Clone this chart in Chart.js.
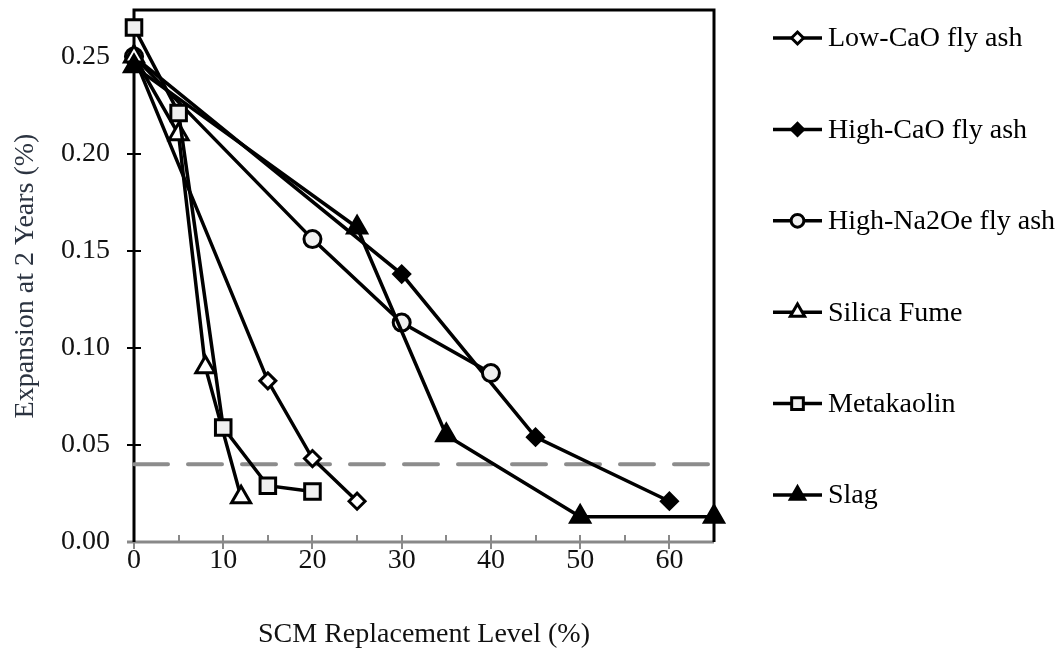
<!DOCTYPE html>
<html>
<head>
<meta charset="utf-8">
<script src="https://cdn.jsdelivr.net/npm/chart.js@4/dist/chart.umd.min.js"></script>
<style>
  html, body { margin: 0; padding: 0; background: #ffffff; }
</style>
</head>
<body>
<canvas id="scmChart" width="1059" height="651"></canvas>
<script>
// ---- data ----
const seriesNames = ["Low-CaO fly ash", "High-CaO fly ash", "High-Na2Oe fly ash", "Silica Fume", "Metakaolin", "Slag"];

const lowCaoLevel = [0, 15, 20, 25];
const lowCaoExp = [0.25, 0.083, 0.043, 0.021];

const highCaoLevel = [0, 30, 45, 60];
const highCaoExp = [0.25, 0.138, 0.054, 0.021];

const highNaLevel = [0, 20, 30, 40];
const highNaExp = [0.25, 0.156, 0.113, 0.087];

const silicaLevel = [0, 5, 8, 12];
const silicaExp = [0.25, 0.21, 0.09, 0.023];

const metakaolinLevel = [0, 5, 10, 15, 20];
const metakaolinExp = [0.265, 0.221, 0.059, 0.029, 0.026];

const slagLevel = [0, 25, 35, 50, 65];
const slagExp = [0.245, 0.162, 0.055, 0.013, 0.013];

const limitLevel = [0, 65];
const limitExp = [0.04, 0.04];

const xTicks = [0, 10, 20, 30, 40, 50, 60];
const yTicks = [0, 0.05, 0.10, 0.15, 0.20, 0.25];

// ---- styles ----
const serif = "'Liberation Serif', 'Times New Roman', serif";
const markers = [
    { style: "rectRot", radius: 8, fill: "#ffffff" },
    { style: "rectRot", radius: 8, fill: "#000000" },
    { style: "circle", radius: 8.5, fill: "#f0f0f0" },
    { style: "triangle", radius: 11, fill: "#ffffff" },
    { style: "rect", radius: 11, fill: "#f0f0f0" },
    { style: "triangle", radius: 11, fill: "#000000" },
];

function toPoints(xs, ys) {
    return xs.map((x, i) => ({ x: x, y: ys[i] }));
}

const seriesData = [
    toPoints(lowCaoLevel, lowCaoExp),
    toPoints(highCaoLevel, highCaoExp),
    toPoints(highNaLevel, highNaExp),
    toPoints(silicaLevel, silicaExp),
    toPoints(metakaolinLevel, metakaolinExp),
    toPoints(slagLevel, slagExp),
];

const datasets = seriesNames.map((name, i) => ({
    label: name,
    data: seriesData[i],
    showLine: true,
    borderColor: "#000000",
    borderWidth: 3.5,
    pointStyle: markers[i].style,
    pointRadius: markers[i].radius,
    pointHoverRadius: markers[i].radius,
    pointBackgroundColor: markers[i].fill,
    pointBorderColor: "#000000",
    pointBorderWidth: 3,
    clip: false,
    order: seriesNames.length - i,
}));

datasets.push({
    label: "limit",
    data: toPoints(limitLevel, limitExp),
    showLine: true,
    borderColor: "#8c8c8c",
    borderWidth: 4,
    borderDash: [34, 20],
    borderCapStyle: "round",
    pointRadius: 0,
    clip: false,
    order: 20,
});

// axis lines, ticks and the box round the plot
const framePlugin = {
    id: "frame",
    beforeDatasetsDraw(chart) {
        const { ctx, chartArea: a, scales } = chart;
        const x = scales.x, y = scales.y;
        ctx.save();

        ctx.strokeStyle = "#898989";
        ctx.lineWidth = 2;
        xTicks.forEach((v) => {
            const px = Math.round(x.getPixelForValue(v));
            ctx.beginPath();
            ctx.moveTo(px, a.bottom - 7);
            ctx.lineTo(px, a.bottom + 7);
            ctx.stroke();
            const mv = v + 5;
            if (mv < 65) {
                const mx = Math.round(x.getPixelForValue(mv));
                ctx.beginPath();
                ctx.moveTo(mx, a.bottom - 7);
                ctx.lineTo(mx, a.bottom);
                ctx.stroke();
            }
        });
        ctx.lineWidth = 3;
        ctx.beginPath();
        ctx.moveTo(a.left - 7, a.bottom);
        ctx.lineTo(a.right, a.bottom);
        ctx.stroke();

        ctx.strokeStyle = "#000000";
        ctx.lineWidth = 2;
        yTicks.forEach((v) => {
            if (v === 0) return;
            const py = Math.round(y.getPixelForValue(v));
            ctx.beginPath();
            ctx.moveTo(a.left - 7, py);
            ctx.lineTo(a.left + 7, py);
            ctx.stroke();
        });

        ctx.lineWidth = 3;
        ctx.beginPath();
        ctx.moveTo(a.left, a.bottom);
        ctx.lineTo(a.left, a.top);
        ctx.lineTo(a.right, a.top);
        ctx.lineTo(a.right, a.bottom);
        ctx.stroke();
        ctx.restore();
    },
};

// legend on the right: line with marker, then the name
const legendPlugin = {
    id: "sideLegend",
    afterDraw(chart) {
        const { ctx, chartArea: a } = chart;
        const x0 = a.right + 59;
        const lineLen = 49;
        ctx.save();
        seriesNames.forEach((name, i) => {
            const cy = a.top + 28 + i * 91.4;
            ctx.strokeStyle = "#000000";
            ctx.lineWidth = 3.5;
            ctx.beginPath();
            ctx.moveTo(x0, cy);
            ctx.lineTo(x0 + lineLen, cy);
            ctx.stroke();
            ctx.fillStyle = markers[i].fill;
            ctx.lineWidth = 3;
            Chart.helpers.drawPoint(ctx, {
                pointStyle: markers[i].style,
                radius: markers[i].radius * 0.75,
                rotation: 0,
                borderWidth: 3,
            }, x0 + lineLen / 2, cy);
            ctx.fillStyle = "#000000";
            ctx.font = "28px " + serif;
            ctx.textAlign = "left";
            ctx.textBaseline = "middle";
            ctx.fillText(name, x0 + lineLen + 6, cy + 1);
        });
        ctx.restore();
    },
};

new Chart(document.getElementById("scmChart"), {
    type: "scatter",
    data: { datasets: datasets },
    plugins: [framePlugin, legendPlugin],
    options: {
        responsive: false,
        animation: false,
        devicePixelRatio: 1,
        layout: { autoPadding: false, padding: { left: 0, top: 10, right: 345, bottom: 0 } },
        plugins: { legend: { display: false }, tooltip: { enabled: false } },
        scales: {
            x: {
                type: "linear",
                min: 0,
                max: 65,
                border: { display: false },
                grid: { display: false, drawTicks: false },
                afterFit(scale) {
                    scale.height = 109;
                    scale.paddingLeft = 0;
                    scale.paddingRight = 0;
                },
                afterBuildTicks(scale) { scale.ticks = xTicks.map((v) => ({ value: v })); },
                ticks: {
                    padding: 2,
                    color: "#111111",
                    font: { family: serif, size: 28 },
                    callback: (v) => String(v),
                },
                title: {
                    display: true,
                    text: "SCM Replacement Level (%)",
                    color: "#111111",
                    font: { family: serif, size: 28 },
                    padding: { top: 0, bottom: 0 },
                },
            },
            y: {
                type: "linear",
                min: 0,
                max: 0.274,
                border: { display: false },
                grid: { display: false, drawTicks: false },
                afterFit(scale) {
                    scale.width = 134;
                    scale.paddingTop = 0;
                    scale.paddingBottom = 0;
                },
                afterBuildTicks(scale) { scale.ticks = yTicks.map((v) => ({ value: v })); },
                ticks: {
                    padding: 24,
                    color: "#111111",
                    font: { family: serif, size: 28 },
                    callback: (v) => Number(v).toFixed(2),
                },
                title: {
                    display: true,
                    text: "Expansion at 2 Years (%)",
                    color: "#2b3340",
                    font: { family: serif, size: 28 },
                    padding: { top: 9, bottom: 0 },
                },
            },
        },
    },
});
</script>
</body>
</html>
